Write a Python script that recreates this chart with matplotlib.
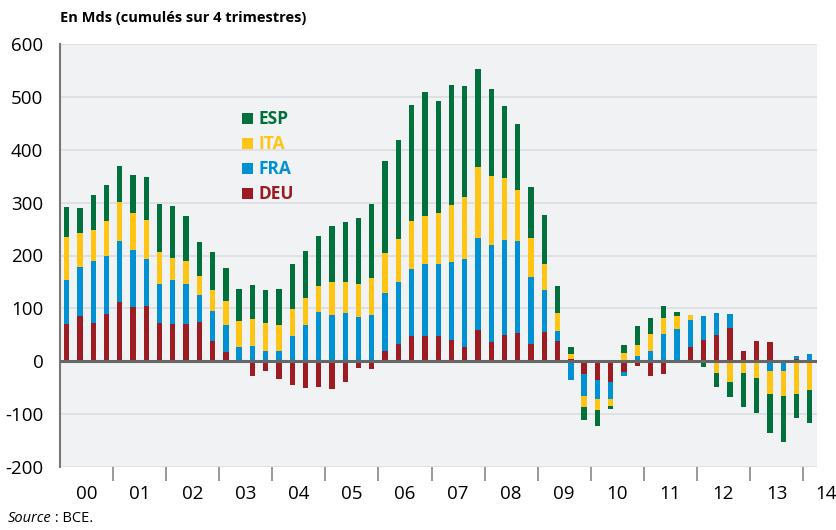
import matplotlib

matplotlib.use("Agg")
import matplotlib.pyplot as plt
import numpy as np

plt.rcParams["font.family"] = ["Open Sans", "DejaVu Sans"]
plt.rcParams["axes.unicode_minus"] = False

# quarterly, 2000Q1 .. 2014Q1 (cumulated over 4 quarters, bn EUR)
years = ["00", "01", "02", "03", "04", "05", "06", "07", "08", "09",
         "10", "11", "12", "13", "14"]
deu = [70, 85, 73, 89, 113, 103, 104, 72, 71, 70, 75, 38, 17, 0, -28, -18,
       -33, -45, -51, -49, -53, -39, -12, -15, 19, 32, 47, 47, 47, 40, 27,
       59, 37, 49, 53, 32, 56, 39, 5, -24, -35, -39, -20, -9, -28, -24, -4,
       27, 41, 49, 63, 20, 39, 36, -2, 5, 0]
fra = [84, 93, 116, 110, 115, 107, 90, 75, 83, 77, 51, 57, 51, 27, 28, 19,
       19, 47, 68, 93, 88, 91, 83, 87, 110, 117, 128, 137, 137, 147, 166,
       174, 182, 180, 174, 127, 78, 18, -36, -42, -36, -33, -7, 10, 20, 52,
       61, 51, 44, 42, 26, 0, 0, -19, -17, 5, 13]
ita = [81, 64, 60, 66, 73, 70, 73, 59, 42, 43, 35, 40, 46, 49, 51, 53, 49,
       51, 51, 50, 61, 58, 63, 70, 75, 82, 90, 91, 96, 109, 117, 135, 131,
       118, 97, 75, 50, 35, 8, -21, -21, -13, 15, 20, 32, 30, 24, 9, -4,
       -22, -39, -23, -32, -42, -46, -62, -55]
esp = [57, 47, 66, 69, 69, 72, 82, 91, 97, 85, 64, 71, 63, 61, 65, 63, 69,
       85, 90, 93, 107, 114, 124, 140, 174, 188, 219, 235, 212, 227, 210,
       185, 164, 135, 125, 96, 93, 51, 14, -24, -31, -5, 15, 37, 29, 22, 8,
       0, -7, -26, -28, -64, -65, -74, -87, -46, -61]

series = [("DEU", deu, "#9C1C21"), ("FRA", fra, "#0091D4"),
          ("ITA", ita, "#FFC414"), ("ESP", esp, "#00703C")]

fig = plt.figure(figsize=(8.37, 5.30), dpi=100)
ax = fig.add_axes([60 / 837, 63 / 530, 757 / 837, 423 / 530])
ax.set_facecolor("#F1F2F4")

x = np.arange(len(deu))
pos_bottom = np.zeros(len(x))
neg_bottom = np.zeros(len(x))
bars = {}
for name, vals, col in series:
    v = np.array(vals, dtype=float)
    bottom = np.where(v >= 0, pos_bottom, neg_bottom)
    bars[name] = ax.bar(x, v, 0.4, bottom=bottom, color=col, label=name,
                        zorder=3)
    pos_bottom += np.clip(v, 0, None)
    neg_bottom += np.clip(v, None, 0)

ax.set_xlim(-0.5, 56.55)
ax.set_ylim(-200, 600)
ax.set_yticks(range(-200, 601, 100))
ax.tick_params(axis="y", length=0, labelsize=13.5, pad=12)
ax.grid(axis="y", color="#DCDDE0", lw=1.2, zorder=0)
ax.axhline(0, color="#666666", lw=2.2, zorder=4)

# year separators as ticks, labels in between
ax.set_xticks([4 * k - 0.5 for k in range(1, 15)])
ax.set_xticklabels([])
ax.tick_params(axis="x", length=10, width=1.2, color="#888888",
               direction="out")
for k, yr in enumerate(years):
    xc = 4 * k + 1.5 if k < 14 else 57.25
    ax.text(xc, -252, yr, ha="center", va="center",
            fontsize=13.5, clip_on=False)

for s in ["top", "right", "bottom"]:
    ax.spines[s].set_visible(False)
ax.spines["left"].set_color("#777777")
ax.spines["left"].set_linewidth(1.5)

handles = [bars[n] for n in ["ESP", "ITA", "FRA", "DEU"]]
leg = ax.legend(handles, ["ESP", "ITA", "FRA", "DEU"],
                loc="upper left", bbox_to_anchor=(0.22, 0.88),
                frameon=False, labelcolor="linecolor",
                prop={"weight": "bold", "size": 12.5},
                handlelength=0.6, handleheight=0.6, handletextpad=0.35,
                labelspacing=0.4)

fig.text(60 / 837, 1 - 18 / 530, "En Mds (cumulés sur 4 trimestres)",
         fontsize=10.5, fontweight="bold", va="center", ha="left")
fig.text(8 / 837, 1 - 519 / 530, "Source", fontsize=10.5, style="italic",
         va="center", ha="left")
fig.text(51 / 837, 1 - 519 / 530, " : BCE.", fontsize=10.5,
         va="center", ha="left")

fig.savefig("out.png", dpi=100)
